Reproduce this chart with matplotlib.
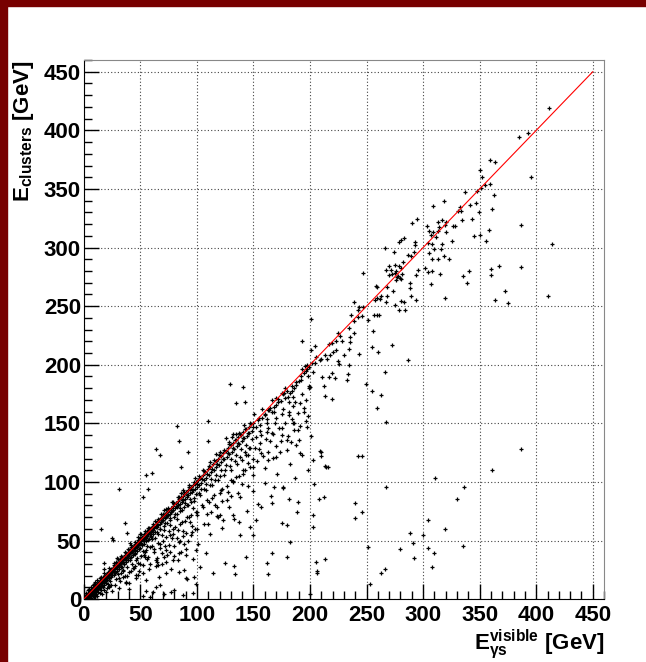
import numpy as np
import matplotlib
matplotlib.use('Agg')
from matplotlib import pyplot as plt
from matplotlib.patches import Rectangle

plt.rcParams['font.family'] = ['Liberation Sans', 'DejaVu Sans']
plt.rcParams['mathtext.fontset'] = 'custom'
plt.rcParams['mathtext.rm'] = 'Liberation Sans:bold'
plt.rcParams['mathtext.bf'] = 'Liberation Sans:bold'
plt.rcParams['mathtext.it'] = 'Liberation Sans:bold'

# E_gamma_s visible vs E_clusters (GeV)
high = [(411, 419), (393, 398), (385, 394), (395, 360), (358.8, 374.6), (363.5, 372.6), (350.2, 366),
        (352.3, 360.4), (359, 354.4), (354.9, 353.3), (351.4, 351), (347.9, 348.2), (362.6, 345.1),
        (337.3, 347.6), (360.8, 333.1), (349.4, 330), (341.7, 336.2), (347, 337.6), (333.6, 331.1),
        (343.2, 324.6), (345.2, 310.1), (350.2, 310.9), (358.5, 315.2), (355.8, 305.5), (386.7, 319.2),
        (414.3, 303.3), (332.3, 334.8), (330.6, 331.1), (326.7, 318.6), (328.2, 318.1), (325.8, 306),
        (334.7, 323.4), (318.8, 339.4), (308.8, 335.1), (317.1, 323.2), (313.3, 321.7), (320.6, 321.7),
        (319.8, 319.5), (314.1, 317.8), (312.9, 313.8), (320.6, 312.9), (303.2, 318.6), (305.6, 314.4),
        (308.8, 313), (306.8, 310.5), (311.2, 309.1), (304.7, 304.2), (308.2, 303.1), (317.1, 302.8),
        (315.9, 298.8), (309.7, 298.8), (305.6, 295.4), (318.8, 293.1), (313.3, 290.5), (322.7, 290.5),
        (308.3, 290.5), (294.7, 324.1), (290, 320.9), (293.2, 304.9), (283.2, 308.1), (280.3, 306.4),
        (278.8, 304.9), (292.6, 302.1), (292, 296.4), (289.1, 292.7), (286.7, 293.6), (274.1, 295.8),
        (266.5, 299.8), (269.7, 283.9), (275.3, 285.3), (278.5, 284.4), (281.8, 287.8), (280.3, 282.5),
        (276.4, 279.7), (275, 278), (272.9, 277.2), (270, 276.6), (267, 280.6), (272, 280.5),
        (278.2, 276), (279.4, 274.3), (281.1, 277.2), (280.8, 272.8), (275.6, 272), (276.5, 274.8),
        (268.5, 266.6), (273.2, 263.1), (268.2, 258.9), (262.8, 258.9), (259.6, 256.6), (259.6, 266.6),
        (257.6, 255.2), (267, 253.2), (261.7, 255.7), (275, 251.2), (278.8, 246.6), (280.3, 254.6),
        (284.4, 246.6), (283.5, 253.2), (288.2, 269.4), (288.8, 265.4), (289.7, 258.7), (293.8, 255.1),
        (293.5, 276.3), (295.2, 281.1), (301.4, 282.5), (304.7, 278.8), (307.9, 279.7), (315, 277.7),
        (307.1, 268.6), (319.2, 256.6), (335.3, 275.7), (340.6, 280), (338.5, 269.6), (359.6, 281.9),
        (359.9, 276.8), (366.9, 283.9), (386.6, 283.3), (372.3, 262.9), (363.8, 255.2), (375.3, 252.3),
        (410.2, 259.1), (246.5, 278.5), (258.5, 266.8), (239.1, 253.2), (243, 249.2), (242, 246.6),
        (246.8, 249.2), (250.9, 238.4), (235.9, 242.4), (238.8, 237.6), (242.4, 240.7), (245.6, 241.8),
        (256.5, 242.7), (258.8, 242.1), (260.6, 242.7), (255.6, 229), (234.7, 231.3), (224.7, 227.3),
        (226.8, 224.8), (235, 223.6), (238.5, 227.3), (219.7, 218.8), (216.5, 217.9), (222.9, 220.5),
        (227.9, 220.5), (235, 219.1), (254.7, 214.8), (260, 210.5), (272.1, 217.1), (243, 209.1),
        (234.7, 213.1), (230, 208), (223.2, 212.2), (217.6, 208.3), (220.5, 210.5), (215, 205.1),
        (213, 208), (205.6, 206.6), (204.1, 216), (201.2, 239.3), (193.2, 220.2), (200.9, 212.5),
        (208.8, 204), (210, 205.2), (204.4, 201.7), (201.8, 201.1), (197.1, 200), (195.3, 199.2),
        (192.9, 196), (196.2, 194.9), (203, 193.7), (198, 190.4), (210.9, 189.5), (217.1, 189.5),
        (219.4, 192.6), (222.4, 188.5), (225, 203.4), (226, 201), (234.7, 200), (233.5, 191.7),
        (232.4, 187.4), (212.6, 182.1), (199.1, 180.4), (249.7, 183.5), (266.2, 194), (286.7, 204)]

far = [(255.1, 177.3), (263.1, 174.1), (259.5, 162.8), (267.1, 151.1), (200.9, 139.2), (209.4, 125.9),
       (209.4, 122.2), (213.6, 113.9), (215.6, 113.1), (242.5, 122.2), (246, 122.2), (203.8, 98),
       (207.7, 85.5), (212.1, 86.9), (202.7, 71.6), (202.9, 61.6), (239.5, 81.8), (239.5, 69.3),
       (246, 74.4), (267.5, 95.5), (251, 44.6), (205, 31.5), (206.2, 24.4), (206.5, 22.7), (213.6, 34.4),
       (253.4, 13.3), (263.1, 22.1), (266, 25.9), (200, 4.3), (279.6, 42.6), (288.7, 56.2), (291.4, 48.3),
       (292.3, 34.9), (299.9, 54.8), (304.6, 67.9), (304.1, 43.5), (309.4, 39.2), (307.6, 27.8),
       (310.6, 103.1), (319.4, 59.7), (329.7, 85.8), (336.5, 95.5), (335.6, 45.2), (361, 110),
       (386.6, 127.8), (213, 173.6), (219.5, 171)]

mid = [(129, 183.2), (141.1, 180.7), (134.3, 167), (142.9, 168.5), (150.9, 158), (109.8, 151.7),
       (163.3, 161.4), (176.9, 175.6), (184.3, 177.8), (180.4, 172.2), (181.6, 167.9), (185.2, 172.7),
       (191.1, 167.6), (196.5, 169.9), (200, 180.7), (197.9, 156.3), (170, 172), (172, 168), (175, 176),
       (178, 180), (165, 163), (168, 160), (160, 158), (158, 162), (155, 155), (162, 150), (185, 165),
       (188, 183), (192, 187), (176, 162), (181, 157), (186, 150), (170, 155), (166, 170),
       (82.3, 147.7), (83.8, 135.2), (63.9, 127.8), (67.5, 123), (60.4, 107.4), (55.3, 106), (31.4, 94),
       (56.5, 94), (52.7, 87.5), (15.1, 59.9), (24.6, 52), (109.8, 135.2), (92, 125.9), (86.1, 112.5),
       (126, 137.2), (132.2, 140.6), (137, 142), (155.6, 143.7), (161.6, 142.9), (166, 141.5),
       (174.9, 145.7), (189.7, 144.3), (197.1, 147.2), (179.3, 135.8), (182.9, 134.1), (187.6, 131.5),
       (191.1, 124.4), (208.9, 126.4), (203, 118.8), (173.4, 125.9), (167.5, 120.2), (163, 118.8),
       (157.1, 125), (149.7, 119.6), (146.2, 128.7), (143.8, 123.4), (145.3, 115.9), (140.8, 110.2),
       (134.9, 104.5), (130.5, 101.7), (127.5, 91.8), (120.1, 90.3), (122.5, 84.1), (116, 80.4),
       (108.9, 84.7), (112.7, 74.7), (118.6, 69.9), (123.1, 67.6), (132, 71.9), (137.3, 66.2),
       (137.9, 54.8), (146.8, 61.9), (149.7, 54.8), (152.7, 67.6), (157.1, 79), (166.6, 81.8),
       (168.4, 96), (176.4, 96), (181.1, 85.5), (189.1, 83.3), (188.2, 74.7), (179.3, 63.4),
       (174.9, 64.8), (182.3, 49.2), (166.6, 39.2), (179.3, 36.4), (161.6, 30.7), (143.8, 35.8),
       (124.6, 30.7), (132.6, 27.9), (114.2, 22.7), (134, 21.3), (163, 21.3), (214.2, 112.5),
       (38.3, 56.2), (36.8, 64.8), (25.6, 50.5), (18.3, 30.6), (17.7, 25.5), (37.7, 15)]

low = [(40.2, 14.2), (55, 16.5), (63.9, 10.8), (66.9, 19.3), (72.8, 22.7), (84.6, 23.6), (90.5, 17.9),
       (99.4, 13.1), (96.5, 5.1), (87.6, 3.7), (77.2, 6.5), (71.3, 4.3), (60.9, 5.7), (55, 7.4),
       (52.1, 2.3), (40.2, 8.5), (31.4, 9.4), (22.5, 11.3), (34.3, 19.3), (46.2, 20.7), (58, 26.1),
       (65.4, 29.3), (72.8, 32.1), (78.7, 33.5), (84.6, 39.2), (90.5, 37.8), (96.5, 34.1), (102.4, 27.8),
       (108.3, 39.2), (99.4, 42), (64.8, 32.1), (70.7, 36.3), (76.6, 40.6), (88.4, 25), (91.4, 17),
       (97.3, 19.3), (79.6, 7.9), (67.2, 11.9), (58.9, 2.2)]

core0 = [(0.5, 0.8), (1, 1.5), (1.2, 0.4), (1.8, 2.1), (2, 1.2), (2.3, 3), (2.6, 2.2), (3, 3.4), (3.1, 1.5),
         (3.5, 4), (3.8, 2.8), (4, 4.6), (4.2, 3.3), (4.5, 1.9), (4.8, 5.2), (5, 4.1), (5.2, 6), (5.5, 3),
         (5.8, 5.5), (6, 6.8), (6.1, 4.4), (6.5, 5.9), (6.8, 2.6), (7, 7.3), (7.2, 6.1), (7.5, 4.8),
         (7.8, 8.2), (8, 7), (8.2, 5.5), (8.5, 8.6), (8.7, 3.7), (9, 9.5), (9.2, 7.8), (9.5, 6.3),
         (9.8, 10.1), (10, 8.8), (10.2, 5.1), (10.5, 10.9), (10.7, 9.4), (11, 7.5), (11.2, 11.5),
         (11.5, 10.3), (11.8, 12.6), (12, 8.9), (12.2, 11.2), (12.5, 6.4), (12.8, 13.1), (13, 12),
         (13.2, 10.1), (13.5, 14.2), (13.8, 12.7), (14, 9.2), (14.2, 13.6), (14.5, 15.1), (14.8, 11.4),
         (15, 14.2), (15.2, 7.8), (15.5, 15.8), (15.8, 13.5), (16, 16.7), (16.2, 12.3), (16.5, 15.6),
         (16.8, 10), (17, 17.4), (17.2, 15.9), (17.5, 13.8), (17.8, 18.6), (18, 16.9), (18.2, 11.7),
         (18.5, 18), (18.8, 15.2), (19, 19.8), (19.2, 17.6), (19.5, 14.1), (19.8, 20.3), (20, 18.8),
         (20.2, 9.5), (20.5, 20.9), (20.8, 16.5), (21, 21.8), (21.2, 19.7), (21.5, 13.2), (21.8, 22.4),
         (22, 20.6), (22.3, 17.8), (22.5, 23.1), (22.8, 21.2), (23, 15.4), (23.3, 23.9), (23.5, 22),
         (23.8, 19), (24, 24.6), (24.3, 21.5), (24.5, 11.8), (24.8, 25.3), (25, 23.3),
         (2, 5), (4, 7.5), (6, 10), (8, 12), (10, 14.5), (12, 16), (15, 19), (18, 22), (22, 27), (5, 9),
         (9, 13), (14, 18), (3, 0.5), (6, 1), (9, 1.5), (12, 2.5), (16, 4.5), (20, 6), (8, 3), (14, 5),
         (11, 4), (18, 8), (22, 10), (25, 7)]

core1 = [(25.5, 26.2), (26, 24.1), (26.3, 20.4), (26.7, 27.5), (27, 25.8), (27.4, 22.9), (27.8, 28.4),
         (28, 26.7), (28.3, 17.5), (28.7, 29.3), (29, 27.2), (29.4, 24.3), (29.8, 30.5), (30, 28.6),
         (30.3, 21.4), (30.7, 31.2), (31, 29.4), (31.4, 26.1), (31.8, 32.5), (32, 30.3), (32.3, 15.8),
         (32.7, 33.4), (33, 31.2), (33.4, 27.6), (33.8, 34.6), (34, 32.4), (34.3, 23.9), (34.7, 35.5),
         (35, 33.6), (35.4, 29.8), (35.8, 36.3), (36, 34.2), (36.3, 19.6), (36.7, 37.6), (37, 35.5),
         (37.4, 31.4), (37.8, 38.4), (38, 36.1), (38.3, 27.5), (38.7, 39.7), (39, 37.4), (39.4, 33.2),
         (39.8, 40.5), (40, 38.3), (40.3, 22.8), (40.7, 41.3), (41, 39.5), (41.4, 35.6), (41.8, 42.7),
         (42, 40.2), (42.3, 30.1), (42.7, 43.6), (43, 41.4), (43.4, 37.5), (43.8, 44.9), (44, 42.3),
         (44.3, 26.4), (44.7, 45.5), (45, 43.5), (45.4, 39.1), (45.8, 46.8), (46, 44.1), (46.3, 33.7),
         (46.7, 47.6), (47, 45.2), (47.4, 41.3), (47.8, 48.5), (48, 46.3), (48.3, 20.5), (48.7, 49.8),
         (49, 47.1), (49.4, 43.5), (49.8, 50.6), (50, 48.2), (50.3, 37.2), (50.7, 51.5), (51, 49.3),
         (51.4, 45.8), (51.8, 52.9), (52, 50.1), (52.3, 29.5), (52.7, 53.4), (53, 51.4), (53.4, 47.2),
         (53.8, 54.8), (54, 52.2), (54.3, 40.6), (54.7, 55.7), (55, 53.1), (55.4, 49.5), (55.8, 56.4),
         (56, 54.3), (56.3, 33.9), (56.7, 57.8), (57, 55.2), (57.4, 51.1), (57.8, 58.6), (58, 56.3),
         (58.3, 44.7), (58.7, 59.5), (59, 57.4), (59.4, 53.2), (59.8, 60.7), (60, 58.1),
         (27, 31), (30, 34.5), (33, 37), (36, 40.5), (39, 43), (42, 46.5), (45, 49), (48, 53), (51, 55.5),
         (54, 58.5), (57, 61), (29, 35), (41, 48), (50, 56), (28, 12), (31, 18), (35, 25), (38, 20),
         (42, 24), (45, 28), (47, 35), (50, 30), (53, 38), (55, 42), (57, 36), (60, 45), (33, 22),
         (37, 14), (46, 18), (52, 22)]

core2 = [(60.5, 61.3), (61, 59.2), (61.5, 55.4), (62, 62.8), (62.5, 60.4), (63, 52.1), (63.5, 64.2),
         (64, 61.7), (64.5, 57.3), (65, 65.9), (65.5, 63.1), (66, 48.2), (66.5, 67.2), (67, 64.5),
         (67.5, 59.8), (68, 68.9), (68.5, 65.7), (69, 55.1), (69.5, 70.4), (70, 67.6), (70.5, 62.3),
         (71, 71.8), (71.5, 68.9), (72, 45.6), (72.5, 73.4), (73, 70.2), (73.5, 64.9), (74, 74.6),
         (74.5, 71.5), (75, 57.9), (75.5, 76.3), (76, 73.1), (76.5, 67.4), (77, 77.9), (77.5, 74.6),
         (78, 52.3), (78.5, 79.2), (79, 75.8), (79.5, 70.1), (80, 80.8), (80.5, 77.4), (81, 61.5),
         (81.5, 82.3), (82, 78.9), (82.5, 72.6), (83, 83.7), (83.5, 80.1), (84, 48.9), (84.5, 85.4),
         (85, 81.6), (85.5, 75.3), (86, 86.8), (86.5, 83.2), (87, 66.2), (87.5, 88.1), (88, 84.5),
         (88.5, 78.4), (89, 89.9), (89.5, 85.7), (90, 56.5), (90.5, 91.2), (91, 87.3), (91.5, 80.6),
         (92, 92.8), (92.5, 88.5), (93, 70.4), (93.5, 94.1), (94, 90.2), (94.5, 83.1), (95, 95.6),
         (95.5, 91.4), (96, 62.7), (96.5, 97.2), (97, 93.1), (97.5, 86.4), (98, 98.5), (98.5, 94.3),
         (99, 74.8), (99.5, 100.2), (100, 95.7),
         (63, 67), (68, 72.5), (73, 77), (78, 83), (83, 87.5), (88, 93), (93, 97), (98, 103), (71, 76),
         (86, 91), (62, 40), (65, 35), (67, 44), (70, 50), (73, 42), (76, 55), (79, 60), (82, 52),
         (85, 64), (88, 58), (91, 70), (94, 66), (97, 78), (64, 28), (69, 30), (74, 38), (80, 45),
         (86, 40), (92, 50), (98, 60), (77, 26), (83, 33), (89, 47), (95, 55), (100, 72)]

core3 = [(100.7, 101.5), (101.5, 97.4), (102.2, 90.3), (103, 103.8), (103.7, 99.1), (104.5, 80.6),
         (105.2, 106.1), (106, 101.4), (106.7, 93.8), (107.5, 108.3), (108.2, 103.6), (109, 72.5),
         (109.7, 110.7), (110.5, 105.9), (111.2, 97.1), (112, 112.9), (112.7, 108.2), (113.5, 86.4),
         (114.2, 115.2), (115, 110.4), (115.7, 101.6), (116.5, 117.6), (117.2, 112.8), (118, 78.3),
         (118.7, 119.9), (119.5, 114.7), (120.2, 105.3), (121, 122.1), (121.7, 116.9), (122.5, 93.6),
         (123.2, 124.4), (124, 119.2), (124.7, 109.8), (125.5, 126.6), (126.2, 121.3), (127, 84.7),
         (127.7, 129.1), (128.5, 123.5), (129.2, 113.4), (130, 131.3), (130.7, 125.8), (131.5, 100.2),
         (132.2, 133.6), (133, 128.1), (133.7, 117.9), (134.5, 135.8), (135.2, 130.4), (136, 90.5),
         (136.7, 138.2), (137.5, 132.6), (138.2, 121.5), (139, 140.4), (139.7, 134.9), (140.5, 106.7),
         (141.2, 142.7), (142, 137.1), (142.7, 125.9), (143.5, 144.9), (144.2, 139.3), (145, 96.8),
         (145.7, 147.2), (146.5, 141.5), (147.2, 129.3), (148, 149.4), (148.7, 143.8), (149.5, 112.6),
         (105, 110), (112, 117), (120, 126), (128, 134), (135, 141), (142, 149), (117, 124), (131, 138)]

edge = [(150, 150), (152, 147), (154, 153), (156, 149), (158, 155), (160, 157), (162, 154), (164, 161),
        (166, 160), (168, 164), (170, 166), (172, 171), (174, 169), (176, 175), (178, 172), (180, 178),
        (182, 176), (184, 182), (186, 180), (188, 185), (190, 186), (192, 190), (195, 193), (197, 196),
        (199, 198), (152, 138), (157, 140), (163, 146), (169, 150), (175, 158), (181, 160), (187, 168),
        (193, 175), (199, 182), (155, 128), (165, 135), (175, 140), (185, 150), (195, 160)]

near = [(1.4, 2.6), (2.7, 1.1), (3.3, 4.9), (4.4, 2.2), (5.6, 6.9), (6.3, 3.5), (7.4, 8.9), (8.3, 6.7),
        (9.4, 8.1), (10.6, 12.4), (11.3, 7.9), (12.7, 13.8), (13.6, 9.6), (14.9, 16.3), (15.6, 11.2),
        (16.9, 18.5), (17.4, 14.6), (18.7, 20.2), (19.6, 16.1), (20.9, 19.4), (21.4, 23.6), (22.6, 18.3),
        (23.9, 26.1), (24.6, 20.9), (25.9, 25.1), (26.6, 29.2), (27.7, 22.6), (28.9, 31.4), (29.6, 25.7),
        (30.9, 28.9), (31.6, 34.1), (32.9, 27.6), (33.6, 36.2), (34.9, 31.8), (35.6, 30.1), (36.9, 39.3),
        (37.6, 33.7), (38.9, 36.8), (39.6, 42.1), (40.9, 35.2), (41.6, 44.6), (42.9, 39.9), (43.6, 38.1),
        (44.9, 47.2), (45.6, 41.7), (46.9, 44.3), (47.6, 50.2), (48.9, 43.1), (49.6, 52.6), (50.9, 47.9),
        (51.6, 46.2), (52.9, 55.4), (53.6, 49.8), (54.9, 52.1), (55.6, 58.3), (56.9, 50.5), (57.6, 60.7),
        (58.9, 55.6), (59.6, 54.2), (61.3, 63.9), (62.8, 57.4), (64.3, 61.9), (65.7, 68.2), (67.3, 60.1),
        (68.8, 66.5), (70.2, 73.1), (71.8, 64.6), (73.3, 70.9), (74.7, 77.4), (76.2, 69.3), (77.8, 75.5),
        (79.3, 82.6), (80.8, 72.8), (82.2, 79.7), (83.8, 86.9), (85.3, 77.6), (86.7, 84.4), (88.2, 91.5),
        (89.8, 81.9), (91.3, 88.6), (92.8, 96.1), (94.2, 85.7), (95.7, 93.2), (97.3, 100.4), (98.8, 90.1),
        (100.3, 97.9), (101.8, 104.7), (103.2, 94.3), (104.8, 102.2), (106.3, 109.6), (107.7, 98.5),
        (109.3, 106.9), (110.8, 113.8), (112.3, 102.7), (113.7, 111.1), (115.3, 118.6), (116.7, 106.2),
        (118.2, 115.4), (119.8, 123.1), (121.3, 110.5), (122.7, 119.7), (124.3, 127.4), (125.8, 114.9),
        (127.2, 124.3), (128.8, 132.1), (130.3, 119.6), (131.7, 128.8), (133.3, 136.2), (134.8, 123.4),
        (136.2, 133.1), (137.8, 141.3), (139.3, 127.8), (140.7, 137.6), (142.3, 145.5), (143.8, 131.9),
        (145.2, 142.2), (146.8, 150.1), (148.3, 136.4), (149.7, 146.8)]

cloud = [(41, 33), (43.5, 27), (45, 38.5), (47.5, 31), (49, 24), (52, 41), (54.5, 36), (56, 45.5),
         (58.5, 30), (60, 51), (62.5, 43), (63.5, 33), (65.5, 56), (67, 47.5), (69.5, 39), (71, 59),
         (72.5, 53), (75, 46), (76, 63), (78.5, 55.5), (80, 37), (82, 68), (83.5, 59), (85.5, 49.5),
         (87, 76), (89.5, 67), (90.5, 43), (92, 80), (94.5, 71.5), (96, 57), (97.5, 84), (100, 74),
         (101, 47), (103, 88.5), (105.5, 79), (106, 64), (108, 93), (110.5, 83), (112, 56), (113.5, 97),
         (115, 89), (117.5, 71), (119, 102), (121.5, 93), (122, 61), (124, 106), (126.5, 96.5), (128, 79),
         (130, 110), (131.5, 101), (133, 68), (135.5, 115), (137, 105), (138, 87), (140, 119),
         (142.5, 110), (144, 75), (145.5, 123), (147, 113), (149.5, 92), (151, 129), (153.5, 118),
         (154, 81), (156, 133), (158.5, 122), (160, 99), (161.5, 137), (163, 126), (165.5, 88), (167, 141),
         (169.5, 131), (171, 107), (172.5, 146), (174, 135), (176.5, 95), (178, 150), (180.5, 139),
         (182, 115), (184, 154), (185.5, 144), (187, 103), (189, 159), (191.5, 148), (193, 123), (195, 163),
         (196.5, 152), (198, 110), (120, 72), (130, 88), (140, 98), (150, 106), (160, 112), (170, 121),
         (180, 127), (190, 136), (110, 64), (100, 60), (88, 54)]

line_x = [0, 450]
line_y = [0, 450]

pts = np.array(high + far + mid + low + core0 + core1 + core2 + core3 + edge + near + cloud)
x, y = pts[:, 0], pts[:, 1]

fig = plt.figure(figsize=(6.46, 6.62), dpi=100)
fig.patches.append(Rectangle((0, 0), 7 / 646, 1, transform=fig.transFigure, color='#780000', zorder=10))
fig.patches.append(Rectangle((0, 1 - 6 / 662), 1, 6 / 662, transform=fig.transFigure, color='#780000', zorder=10))

ax = fig.add_axes([0.1297, 0.0949, 0.8054, 0.8144])
ax.plot(x, y, '+', ms=3.5, mew=0.9, color='black', zorder=2)
ax.plot(line_x, line_y, '-', color='red', lw=0.8, zorder=3)

ax.set_xlim(0, 460)
ax.set_ylim(0, 460)
ax.set_xticks(np.arange(0, 451, 50))
ax.set_yticks(np.arange(0, 451, 50))
ax.set_xticks(np.arange(0, 461, 10), minor=True)
ax.set_yticks(np.arange(0, 461, 10), minor=True)
ax.tick_params(which='major', direction='in', length=11, width=1, top=False, right=False,
               labelsize=16, pad=2)
ax.tick_params(axis='x', which='major', pad=4)
ax.tick_params(which='minor', direction='in', length=6, width=1, top=False, right=False)
for lab in ax.get_xticklabels() + ax.get_yticklabels():
    lab.set_fontweight('bold')
ax.grid(True, which='major', linestyle=(0, (1, 2)), color='#444444', lw=0.8)
ax.set_axisbelow(True)
for s in ['top', 'right']:
    ax.spines[s].set_color('#888888')

fig.text(604 / 646, 1 - 649 / 662, r'$\mathbf{E}^{\mathbf{visible}}_{\mathbf{γs}}$ [GeV]',
         ha='right', va='baseline', fontsize=16, fontweight='bold')
fig.text(24 / 646, 1 - 60 / 662, r'$\mathbf{E}_{\mathbf{clusters}}$ [GeV]', rotation=90,
         ha='center', va='top', fontsize=16, fontweight='bold')

fig.savefig('out.png', dpi=100)
